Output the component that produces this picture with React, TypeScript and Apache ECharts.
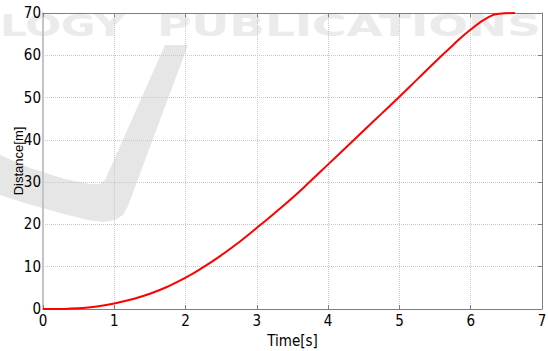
import React, { useEffect, useRef } from "react";
import * as echarts from "echarts";

const timeValues = [0, 0.25, 0.5, 0.75, 1, 1.25, 1.5, 1.75, 2, 2.25, 2.5, 2.75, 3, 3.25, 3.5, 3.75, 4, 4.25, 4.5, 4.75, 5, 5.25, 5.5, 5.75, 6, 6.25, 6.4, 6.62];
const distanceValues = [0, 0.02, 0.15, 0.6, 1.3, 2.3, 3.6, 5.3, 7.4, 9.9, 12.7, 15.8, 19.2, 22.7, 26.3, 30.2, 34.2, 38.2, 42.2, 46.2, 50.2, 54.3, 58.4, 62.4, 66.1, 69.0, 69.8, 70];
const xTicks = [0, 1, 2, 3, 4, 5, 6, 7];
const yTicks = [0, 10, 20, 30, 40, 50, 60, 70];
const watermarkWords = ["LOGY", "PUBLICATIONS"];

function measure(text: string, font: string): number {
  const c = document.createElement("canvas");
  const ctx = c.getContext("2d");
  if (!ctx) return 100;
  ctx.font = font;
  return ctx.measureText(text).width;
}

export default function App() {
  const ref = useRef<HTMLDivElement>(null);
  useEffect(() => {
    if (!ref.current) return;
    const chart = echarts.init(ref.current, undefined, { renderer: "svg" });
    const tickFont = "'DejaVu Sans Condensed', 'Liberation Sans Narrow', 'Roboto Condensed', 'Liberation Sans', sans-serif";
    const wmFont = "bold 31px 'DejaVu Sans'";
    const w1 = measure(watermarkWords[0], wmFont);
    const w2 = measure(watermarkWords[1], wmFont);
    const data = timeValues.map((t, i) => [t, distanceValues[i]]);
    const gridLine = { show: true, lineStyle: { color: "#c8c8c8", type: "dotted" as const, width: 1 } };
    chart.setOption({
      animation: false,
      backgroundColor: "#ffffff",
      grid: { left: 43, right: 6, top: 13, bottom: 42, containLabel: false, outerBoundsMode: "none" },
      graphic: [
        {
          type: "text", x: 0, y: 10, z: -10, scaleX: 125 / w1, silent: true,
          style: { text: watermarkWords[0], font: wmFont, fill: "#ebebeb" },
        },
        {
          type: "text", x: 157, y: 10, z: -10, scaleX: 384 / w2, silent: true,
          style: { text: watermarkWords[1], font: wmFont, fill: "#ebebeb" },
        },
        {
          type: "polygon", z: -10, silent: true,
          shape: {
            points: [[165, 45], [188, 45], [128, 206], [123, 215], [115, 220], [104, 222], [88, 220], [60, 213], [25, 203], [0, 195], [0, 155], [30, 168], [65, 179], [90, 184], [100, 184], [105, 180]],
          },
          style: { fill: "#e6e6e6" },
        },
      ],
      xAxis: [
        {
          type: "value", min: 0, max: 7, interval: 1,
          name: "Time[s]", nameLocation: "middle", nameGap: 24,
          nameTextStyle: { fontFamily: tickFont, fontSize: 15, color: "#000" },
          axisLine: { show: true, onZero: false, lineStyle: { color: "#7f7f7f", width: 1 } },
          axisTick: { show: true, inside: true, length: 4, lineStyle: { color: "#7f7f7f" } },
          axisLabel: { fontFamily: tickFont, fontSize: 15, color: "#000", margin: 4 },
          splitLine: gridLine,
        },
        {
          type: "value", min: 0, max: 7, interval: 1, position: "top",
          axisLine: { show: true, onZero: false, lineStyle: { color: "#7f7f7f", width: 1 } },
          axisTick: { show: true, inside: true, length: 4, lineStyle: { color: "#7f7f7f" } },
          axisLabel: { show: false },
          splitLine: { show: false },
        },
      ],
      yAxis: [
        {
          type: "value", min: 0, max: 70, interval: 10,
          name: "Distance[m]", nameLocation: "middle", nameGap: 18, nameMoveOverlap: false,
          nameTextStyle: { fontFamily: "Liberation Sans", fontSize: 13, color: "#000" },
          axisLine: { show: true, onZero: false, lineStyle: { color: "#c4c4c4", width: 2 } },
          axisTick: { show: false },
          axisLabel: { fontFamily: tickFont, fontSize: 15, color: "#000", margin: 2 },
          splitLine: gridLine,
        },
        {
          type: "value", min: 0, max: 70, interval: 10, position: "right",
          axisLine: { show: true, onZero: false, lineStyle: { color: "#7f7f7f", width: 1 } },
          axisTick: { show: true, inside: true, length: 4, lineStyle: { color: "#7f7f7f" } },
          axisLabel: { show: false },
          splitLine: { show: false },
        },
      ],
      series: [
        {
          type: "line",
          data,
          smooth: true,
          showSymbol: false,
          lineStyle: { color: "#ff0000", width: 2 },
          clip: false,
        },
      ],
    });
    return () => chart.dispose();
  }, []);
  return <div ref={ref} style={{ width: 548, height: 351, position: "fixed", left: 0, top: 0 }} />;
}
